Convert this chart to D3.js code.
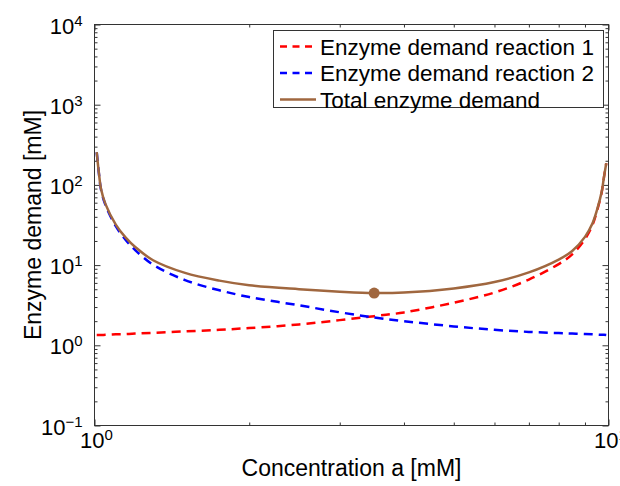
<!DOCTYPE html>
<html>
<head>
<meta charset="utf-8">
<script src="https://cdnjs.cloudflare.com/ajax/libs/d3/7.8.5/d3.min.js"></script>
<style>
  body { margin: 0; background: #fff; }
  text { font-family: "Liberation Sans", Arial, Helvetica, sans-serif; fill: #000; }
</style>
</head>
<body>
<svg id="chart" width="620" height="486"></svg>
<script>
// values
var conc = [1.01, 1.02, 1.03, 1.05, 1.1, 1.15, 1.2, 1.3, 1.5, 1.75, 2, 2.5, 3, 3.5, 4, 5, 6, 7, 8, 8.5, 9, 9.3, 9.5, 9.7, 9.8, 9.9];
var demand1 = [1.34, 1.34, 1.34, 1.35, 1.37, 1.38, 1.40, 1.43, 1.49, 1.56, 1.64, 1.82, 2.06, 2.31, 2.57, 3.40, 4.55, 6.6, 10.3, 13.6, 21.1, 31.3, 47.6, 81, 125, 186];
var demand2 = [255, 138, 86.5, 56.5, 30.6, 20.6, 15.4, 10.1, 6.5, 4.85, 4.0, 3.15, 2.58, 2.22, 2.0, 1.72, 1.56, 1.47, 1.42, 1.40, 1.38, 1.37, 1.36, 1.35, 1.35, 1.34];
var totalDemand = [257, 140, 88, 58, 32, 22, 16.8, 11.5, 8.0, 6.4, 5.6, 5.0, 4.66, 4.48, 4.55, 5.12, 6.15, 8.1, 11.7, 15.0, 22.5, 32.7, 49, 82, 126, 187];
var optimumConc = [3.5];
var optimumDemand = [4.48];

var seriesNames = ["Enzyme demand reaction 1", "Enzyme demand reaction 2", "Total enzyme demand"];
var seriesColors = ["#ff0000", "#0000ff", "#a0673f"];

var xMajor = [1, 10];
var xMinor = [2, 3, 4, 5, 6, 7, 8, 9];
var yExp = [-1, 0, 1, 2, 3, 4];

var svg = d3.select("#chart");
var plotLeft = 94.5, plotRight = 608.5, plotTop = 24.5, plotBottom = 425.5;

var x = d3.scaleLog().domain([1, 10]).range([plotLeft, plotRight]);
var y = d3.scaleLog().domain([0.1, 10000]).range([plotBottom, plotTop]);

var yMajor = yExp.map(function (e) { return Math.pow(10, e); });
var yMinor = [];
for (var e = -1; e < 4; e++) {
  for (var k = 2; k <= 9; k++) yMinor.push(k * Math.pow(10, e));
}

// ticks on all four sides, pointing inward
function tickAxis(axis, values, size, transform) {
  var g = svg.append("g")
    .attr("transform", transform)
    .call(axis.tickValues(values).tickSize(size).tickSizeOuter(0).tickFormat(""));
  g.select(".domain").remove();
  g.selectAll(".tick line").attr("stroke", "#333").attr("stroke-width", 1);
}
tickAxis(d3.axisBottom(x), xMajor, -6, "translate(0," + plotBottom + ")");
tickAxis(d3.axisBottom(x), xMinor, -3, "translate(0," + plotBottom + ")");
tickAxis(d3.axisTop(x), xMajor, -6, "translate(0," + plotTop + ")");
tickAxis(d3.axisTop(x), xMinor, -3, "translate(0," + plotTop + ")");
tickAxis(d3.axisLeft(y), yMajor, -6, "translate(" + plotLeft + ",0)");
tickAxis(d3.axisLeft(y), yMinor, -3, "translate(" + plotLeft + ",0)");
tickAxis(d3.axisRight(y), yMajor, -6, "translate(" + plotRight + ",0)");
tickAxis(d3.axisRight(y), yMinor, -3, "translate(" + plotRight + ",0)");

svg.append("rect")
  .attr("x", plotLeft).attr("y", plotTop)
  .attr("width", plotRight - plotLeft).attr("height", plotBottom - plotTop)
  .attr("fill", "none").attr("stroke", "#333").attr("stroke-width", 1);

// tick labels as 10^n
yExp.forEach(function (e) {
  var t = svg.append("text")
    .attr("x", plotLeft - 12)
    .attr("y", y(Math.pow(10, e)) + 9)
    .attr("text-anchor", "end")
    .style("font-size", "22px");
  t.append("tspan").text("10");
  t.append("tspan").attr("dy", -8).style("font-size", "15px").text(e < 0 ? "\u2212" + (-e) : e);
});
xMajor.forEach(function (v) {
  var t = svg.append("text")
    .attr("x", x(v) + 2)
    .attr("y", 448)
    .attr("text-anchor", "middle")
    .style("font-size", "22px");
  t.append("tspan").text("10");
  t.append("tspan").attr("dy", -8).style("font-size", "15px").text(Math.round(Math.log10(v)));
});

svg.append("text")
  .attr("x", (plotLeft + plotRight) / 2).attr("y", 476)
  .attr("text-anchor", "middle")
  .style("font-size", "23px")
  .text("Concentration a [mM]");

svg.append("text")
  .attr("transform", "translate(41," + (plotTop + plotBottom) / 2 + ") rotate(-90)")
  .attr("text-anchor", "middle")
  .style("font-size", "23px")
  .text("Enzyme demand [mM]");

// curves
var line = d3.line()
  .x(function (d) { return x(d[0]); })
  .y(function (d) { return y(d[1]); })
  .curve(d3.curveCatmullRom.alpha(0.5));

var series = [demand1, demand2, totalDemand];
series.forEach(function (vals, i) {
  svg.append("path")
    .datum(d3.zip(conc, vals))
    .attr("d", line)
    .attr("fill", "none")
    .attr("stroke", seriesColors[i])
    .attr("stroke-width", 2.5)
    .attr("stroke-dasharray", i < 2 ? "9,6" : null);
});

svg.selectAll("circle.opt")
  .data(d3.zip(optimumConc, optimumDemand))
  .enter()
  .append("circle")
  .attr("class", "opt")
  .attr("cx", function (d) { return x(d[0]); })
  .attr("cy", function (d) { return y(d[1]); })
  .attr("r", 5.5)
  .attr("fill", seriesColors[2]);

// legend
var legend = svg.append("g");
legend.append("rect")
  .attr("x", 273.5).attr("y", 30.5)
  .attr("width", 330).attr("height", 77)
  .attr("fill", "#fff").attr("stroke", "#333").attr("stroke-width", 1);

seriesNames.forEach(function (name, i) {
  var ly = 46.5 + i * 26.5;
  legend.append("line")
    .attr("x1", 280).attr("x2", 316)
    .attr("y1", ly).attr("y2", ly)
    .attr("stroke", seriesColors[i])
    .attr("stroke-width", 2.5)
    .attr("stroke-dasharray", i < 2 ? "7,5.5" : null);
  legend.append("text")
    .attr("x", 320).attr("y", ly + 8)
    .style("font-size", "22.5px")
    .text(name);
});
</script>
</body>
</html>
